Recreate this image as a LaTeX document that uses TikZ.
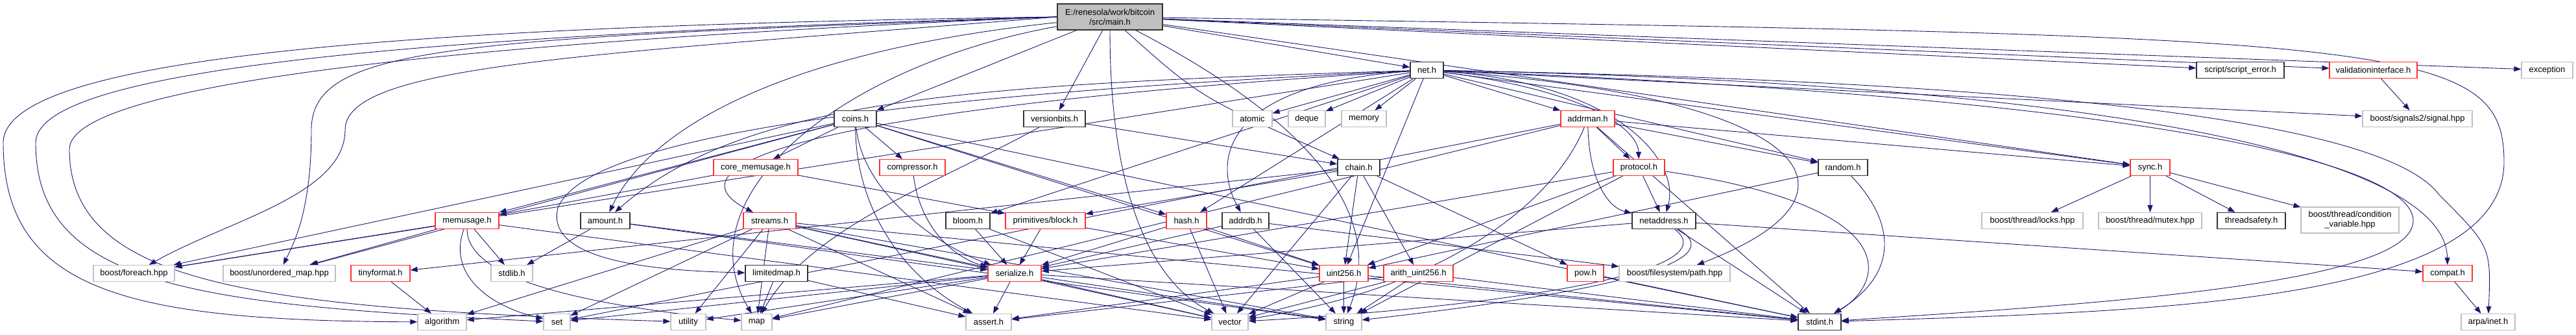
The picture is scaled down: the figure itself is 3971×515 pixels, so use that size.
\documentclass[tikz,border=0pt]{standalone}
\usepackage{fontspec}
\setmainfont{Liberation Sans}
\usetikzlibrary{arrows.meta,backgrounds}
\definecolor{edgeblue}{HTML}{191970}
\definecolor{sysgray}{HTML}{BFBFBF}
\definecolor{truncred}{HTML}{FF3030}
\definecolor{mainfill}{HTML}{BFBFBF}
\tikzset{
  hdr/.style={rectangle,draw,fill=white,inner sep=0pt,minimum height=25,align=center,font=\fontsize{13}{15}\selectfont},
  sysbox/.style={hdr,draw=sysgray,line width=1.2pt},
  filebox/.style={hdr,draw=black!80,line width=1.4pt},
  redbox/.style={hdr,draw=truncred,line width=1.2pt},
  mainbox/.style={hdr,draw=black!80,fill=mainfill,line width=1.4pt,minimum height=40},
  dep/.style={-{Triangle[length=11pt,width=8pt]},edgeblue,line width=0.9pt}
}

\begin{document}
\begin{tikzpicture}[x=1pt,y=-1pt]
  \useasboundingbox (0,0) rectangle (3971,515);
  % nodes, row by row
  \node[mainbox,minimum width=162] (main) at (1711,26) {E:/renesola/work/bitcoin\\/src/main.h};

  \node[filebox,minimum width=51] (net) at (2199.5,108) {net.h};
  \node[filebox,minimum width=135] (scripterr) at (3453.5,108) {script/script\_error.h};
  \node[redbox,minimum width=135] (validif) at (3658.5,108) {validationinterface.h};
  \node[sysbox,minimum width=79] (exception) at (3926.5,108) {exception};

  \node[filebox,minimum width=65] (coins) at (1318.5,183) {coins.h};
  \node[filebox,minimum width=95] (versionbits) at (1625.5,183) {versionbits.h};
  \node[sysbox,minimum width=61] (atomic) at (1930.5,183) {atomic};
  \node[sysbox,minimum width=57] (deque) at (2014.5,183) {deque};
  \node[sysbox,minimum width=69] (memory) at (2102.5,183) {memory};
  \node[redbox,minimum width=83] (addrman) at (2447.5,183) {addrman.h};
  \node[sysbox,minimum width=169] (signal) at (3726.5,183) {boost/signals2/signal.hpp};

  \node[redbox,minimum width=130] (corememusage) at (1165,258) {core\_memusage.h};
  \node[redbox,minimum width=101] (compressor) at (1406.5,258) {compressor.h};
  \node[filebox,minimum width=65] (chain) at (2094.5,258) {chain.h};
  \node[redbox,minimum width=79] (protocol) at (2526.5,258) {protocol.h};
  \node[filebox,minimum width=76] (random) at (2841,258) {random.h};
  \node[redbox,minimum width=61] (sync) at (3314.5,258) {sync.h};

  \node[redbox,minimum width=98] (memusage) at (720,340) {memusage.h};
  \node[filebox,minimum width=76] (amount) at (933,340) {amount.h};
  \node[redbox,minimum width=81] (streams) at (1186.5,340) {streams.h};
  \node[filebox,minimum width=68] (bloom) at (1492,340) {bloom.h};
  \node[redbox,minimum width=123] (block) at (1611.5,340) {primitives/block.h};
  \node[redbox,minimum width=62] (hash) at (1829,340) {hash.h};
  \node[filebox,minimum width=72] (addrdb) at (1920,340) {addrdb.h};
  \node[filebox,minimum width=98] (netaddress) at (2565,340) {netaddress.h};
  \node[sysbox,minimum width=156] (locks) at (3133,340) {boost/thread/locks.hpp};
  \node[sysbox,minimum width=159] (mutex) at (3314.5,340) {boost/thread/mutex.hpp};
  \node[filebox,minimum width=105] (threadsafety) at (3470.5,340) {threadsafety.h};
  \node[sysbox,minimum width=151,minimum height=40] (condvar) at (3622.5,339) {boost/thread/condition\\\_variable.hpp};

  \node[sysbox,minimum width=125] (foreach) at (206.5,421) {boost/foreach.hpp};
  \node[sysbox,minimum width=173] (unorderedmap) at (430.5,421) {boost/unordered\_map.hpp};
  \node[redbox,minimum width=91] (tinyformat) at (586.5,421) {tinyformat.h};
  \node[sysbox,minimum width=64] (stdlib) at (789,421) {stdlib.h};
  \node[filebox,minimum width=96] (limitedmap) at (1197,421) {limitedmap.h};
  \node[redbox,minimum width=82] (serialize) at (1564,421) {serialize.h};
  \node[redbox,minimum width=75] (uint256) at (2071.5,421) {uint256.h};
  \node[redbox,minimum width=107] (arithu) at (2186.5,421) {arith\_uint256.h};
  \node[redbox,minimum width=56] (pow) at (2444,421) {pow.h};
  \node[sysbox,minimum width=171] (path) at (2581.5,421) {boost/filesystem/path.hpp};
  \node[redbox,minimum width=76] (compat) at (3773,421) {compat.h};

  \node[sysbox,minimum width=75] (algorithm) at (681.5,496) {algorithm};
  \node[sysbox,minimum width=41] (set) at (858.5,496) {set};
  \node[sysbox,minimum width=54] (utility) at (1061,496) {utility};
  \node[sysbox,minimum width=47] (map) at (1166.5,496) {map};
  \node[sysbox,minimum width=70] (assert) at (1524,496) {assert.h};
  \node[sysbox,minimum width=56] (vector) at (1896,496) {vector};
  \node[sysbox,minimum width=55] (string) at (2071.5,496) {string};
  \node[filebox,minimum width=66] (stdint) at (2805,496) {stdint.h};
  \node[sysbox,minimum width=83] (arpainet) at (3835.5,496) {arpa/inet.h};

  \begin{scope}[on background layer]
  % main.h
  \draw[dep] (main) -- (net);
  \draw[dep] (main) -- (scripterr);
  \draw[dep] (main) -- (validif);
  \draw[dep] (main) -- (exception);
  \draw[dep] (main) -- (coins);
  \draw[dep] (main) -- (versionbits);
  \draw[dep] (main) .. controls (1850,150) .. (chain);
  \draw[dep] (main) -- (sync);
  \draw[dep] (main) .. controls (1200,80) and (1000,200) .. (amount);
  \draw[dep] (main) .. controls (1711,330) and (1790,440) .. (vector);
  \draw[dep] (main) .. controls (1950,150) and (2150,300) .. (string);
  \draw[dep] (main) .. controls (3700,55) and (3860,60) .. (3860,250) .. controls (3860,470) and (3300,480) .. (stdint);
  \draw[dep] (main.west) .. controls (600,40) and (5,90) .. (5,220) .. controls (5,450) and (200,494) .. (algorithm);
  \draw[dep] (main.west) .. controls (600,55) and (55,110) .. (55,220) .. controls (55,440) and (300,470) .. (set);
  \draw[dep] (main.west) .. controls (700,65) and (107,130) .. (107,230) .. controls (107,440) and (400,475) .. (utility);
  \draw[dep] (main.west) .. controls (700,60) and (480,70) .. (480,200) .. controls (480,330) and (450,380) .. (unorderedmap);
  \draw[dep] (main.west) .. controls (900,85) and (532,100) .. (532,200) .. controls (532,300) and (350,340) .. (foreach);
  \draw[dep] (main) .. controls (1300,100) and (1050,300) .. (map);
  % net.h
  \draw[dep] (net) -- (atomic);
  \draw[dep] (net) -- (deque);
  \draw[dep] (net) -- (memory);
  \draw[dep] (net) -- (addrman);
  \draw[dep] (net) .. controls (1500,130) and (1150,150) .. (amount);
  \draw[dep] (net) .. controls (1300,150) and (900,220) .. (860,320) .. controls (840,400) and (1000,417) .. (limitedmap);
  \draw[dep] (net) .. controls (1200,170) and (1030,260) .. (streams);
  \draw[dep] (net) -- (bloom);
  \draw[dep] (net) -- (foreach);
  \draw[dep] (net) -- (hash);
  \draw[dep] (net) .. controls (1880,130) and (1870,250) .. (addrdb);
  \draw[dep] (net) -- (uint256);
  \draw[dep] (net) .. controls (2450,140) and (2525,200) .. (protocol);
  \draw[dep] (net) .. controls (2500,130) and (2590,250) .. (netaddress);
  \draw[dep] (net) -- (random);
  \draw[dep] (net) -- (sync);
  \draw[dep] (net) -- (signal);
  \draw[dep] (net) .. controls (3300,130) and (3770,250) .. (compat);
  \draw[dep] (net) .. controls (3400,130) and (3700,220) .. (3760,300) .. controls (3840,380) .. (arpainet);
  \draw[dep] (net) .. controls (3300,150) and (3720,250) .. (3720,340) .. controls (3720,440) and (3200,470) .. (stdint);
  \draw[dep] (net) .. controls (2800,150) and (2900,300) .. (path);
  % coins.h
  \draw[dep] (coins) -- (corememusage);
  \draw[dep] (coins) -- (compressor);
  \draw[dep] (coins) -- (hash);
  \draw[dep] (coins) -- (memusage);
  \draw[dep] (coins) .. controls (1330,300) and (1450,380) .. (serialize);
  \draw[dep] (coins) .. controls (1320,330) and (1400,430) .. (assert);
  \draw[dep] (coins) -- (uint256);
  \draw[dep] (coins) -- (stdint);
  \draw[dep] (coins) -- (foreach);
  \draw[dep] (coins) -- (unorderedmap);
  % versionbits.h, chain.h
  \draw[dep] (versionbits) -- (chain);
  \draw[dep] (versionbits) .. controls (1450,280) and (1250,350) .. (map);
  \draw[dep] (chain) -- (arithu);
  \draw[dep] (chain) -- (block);
  \draw[dep] (chain) -- (pow);
  \draw[dep] (chain) -- (tinyformat);
  \draw[dep] (chain) -- (uint256);
  \draw[dep] (chain) -- (vector);
  % amount.h, core_memusage.h, compressor.h
  \draw[dep] (amount) -- (serialize);
  \draw[dep] (amount) -- (stdlib);
  \draw[dep] (amount) -- (string);
  \draw[dep] (corememusage) -- (block);
  \draw[dep] (corememusage) -- (memusage);
  \draw[dep] (compressor) .. controls (1420,360) and (1480,400) .. (serialize);
  % memusage.h
  \draw[dep] (memusage) -- (stdlib);
  \draw[dep] (memusage) -- (foreach);
  \draw[dep] (memusage) -- (unorderedmap);
  \draw[dep] (memusage) .. controls (690,420) and (750,470) .. (set);
  \draw[dep] (memusage) .. controls (720,430) and (900,470) .. (map);
  \draw[dep] (memusage) -- (vector);
  % streams.h
  \draw[dep] (streams) -- (serialize);
  \draw[dep] (streams) -- (algorithm);
  \draw[dep] (streams) -- (assert);
  \draw[dep] (streams) -- (map);
  \draw[dep] (streams) -- (set);
  \draw[dep] (streams) -- (stdint);
  \draw[dep] (streams) -- (string);
  \draw[dep] (streams) -- (utility);
  \draw[dep] (streams) -- (vector);
  % bloom.h, block.h, hash.h, addrdb.h
  \draw[dep] (bloom) -- (serialize);
  \draw[dep] (bloom) -- (vector);
  \draw[dep] (block) -- (serialize);
  \draw[dep] (block) -- (uint256);
  \draw[dep] (hash) -- (serialize);
  \draw[dep] (hash) -- (uint256);
  \draw[dep] (hash) -- (vector);
  \draw[dep] (addrdb) -- (serialize);
  \draw[dep] (addrdb) -- (string);
  \draw[dep] (addrdb) -- (path);
  % addrman.h
  \draw[dep] (addrman) .. controls (2450,280) and (2480,320) .. (netaddress);
  \draw[dep] (addrman) -- (protocol);
  \draw[dep] (addrman) -- (random);
  \draw[dep] (addrman) -- (sync);
  \draw[dep] (addrman) -- (map);
  \draw[dep] (addrman) -- (set);
  \draw[dep] (addrman) .. controls (2400,300) and (2250,440) .. (vector);
  \draw[dep] (addrman) -- (stdint);
  % protocol.h, random.h
  \draw[dep] (protocol) -- (netaddress);
  \draw[dep] (protocol) -- (serialize);
  \draw[dep] (protocol) -- (uint256);
  \draw[dep] (protocol) .. controls (2950,320) and (2900,440) .. (stdint);
  \draw[dep] (protocol) -- (string);
  \draw[dep] (random) -- (uint256);
  \draw[dep] (random) .. controls (2920,340) and (2930,420) .. (stdint);
  % netaddress.h
  \draw[dep] (netaddress) -- (compat);
  \draw[dep] (netaddress) -- (serialize);
  \draw[dep] (netaddress) -- (stdint);
  \draw[dep] (netaddress) .. controls (2700,420) and (2300,470) .. (string);
  \draw[dep] (netaddress) .. controls (2680,430) and (2200,480) .. (vector);
  % sync.h
  \draw[dep] (sync) -- (locks);
  \draw[dep] (sync) -- (mutex);
  \draw[dep] (sync) -- (threadsafety);
  \draw[dep] (sync) -- (condvar);
  % serialize.h
  \draw[dep] (serialize) -- (algorithm);
  \draw[dep] (serialize) -- (assert);
  \draw[dep] (serialize) -- (map);
  \draw[dep] (serialize) -- (set);
  \draw[dep] (serialize) -- (stdint);
  \draw[dep] (serialize) -- (string);
  \draw[dep] (serialize) -- (utility);
  \draw[dep] (serialize) -- (vector);
  % uint256.h, arith_uint256.h
  \draw[dep] (uint256) -- (assert);
  \draw[dep] (uint256) -- (stdint);
  \draw[dep] (uint256) -- (string);
  \draw[dep] (uint256) -- (vector);
  \draw[dep] (arithu) -- (assert);
  \draw[dep] (arithu) -- (stdint);
  \draw[dep] (arithu) -- (string);
  \draw[dep] (arithu) -- (vector);
  % the rest
  \draw[dep] (pow) -- (stdint);
  \draw[dep] (tinyformat) -- (algorithm);
  \draw[dep] (limitedmap) -- (assert);
  \draw[dep] (limitedmap) -- (map);
  \draw[dep] (validif) -- (signal);
  \draw[dep] (compat) -- (arpainet);
  \end{scope}
\end{tikzpicture}
\end{document}
